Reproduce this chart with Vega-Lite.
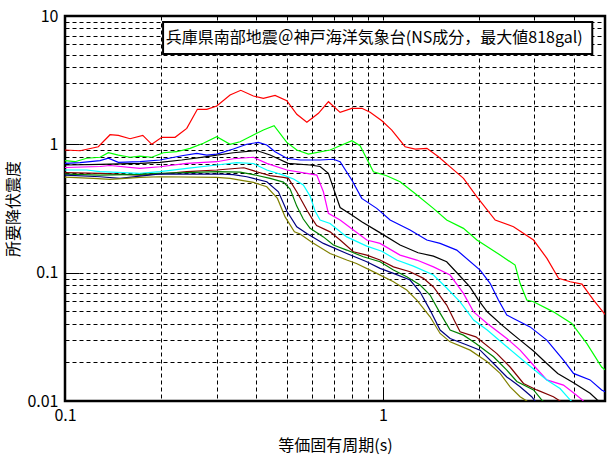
{
  "$schema": "https://vega.github.io/schema/vega-lite/v6.json",
  "width": 540,
  "height": 385,
  "autosize": {"type": "none"},
  "padding": {"left": 65, "top": 16, "right": 6, "bottom": 58},
  "background": "white",
  "config": {
    "view": {"stroke": "black", "strokeWidth": 2.5},
    "font": "Noto Sans CJK JP",
    "axis": {
      "domain": false,
      "labelFont": "Noto Sans CJK JP",
      "labelFontSize": 16,
      "labelColor": "black",
      "titleFont": "Noto Sans CJK JP",
      "titleFontSize": 16,
      "titleFontWeight": "normal",
      "titleColor": "black",
      "gridColor": "black",
      "gridDash": [4, 3],
      "gridWidth": 1,
      "gridOpacity": 1,
      "labelOverlap": false,
      "labelFlush": false,
      "ticks": true,
      "tickColor": "black",
      "tickWidth": 1,
      "tickSize": -14
    }
  },
  "datasets": {
    "curves": [
      {"k":"s1","T":0.1,"S":0.903},{"k":"s1","T":0.1115,"S":0.891},{"k":"s1","T":0.1273,"S":0.958},{"k":"s1","T":0.1386,"S":1.188},{"k":"s1","T":0.1472,"S":1.175},{"k":"s1","T":0.1602,"S":1.106},{"k":"s1","T":0.1757,"S":1.175},{"k":"s1","T":0.1875,"S":1.0},{"k":"s1","T":0.2016,"S":1.134},{"k":"s1","T":0.222,"S":1.134},{"k":"s1","T":0.2416,"S":1.332},{"k":"s1","T":0.2609,"S":1.874},{"k":"s1","T":0.2793,"S":1.874},{"k":"s1","T":0.3002,"S":1.988},{"k":"s1","T":0.3306,"S":2.422},{"k":"s1","T":0.3573,"S":2.636},{"k":"s1","T":0.3914,"S":2.378},{"k":"s1","T":0.4209,"S":2.282},{"k":"s1","T":0.4581,"S":2.409},{"k":"s1","T":0.4987,"S":2.187},{"k":"s1","T":0.5362,"S":1.713},{"k":"s1","T":0.5767,"S":1.484},{"k":"s1","T":0.6271,"S":1.744},{"k":"s1","T":0.6744,"S":2.148},{"k":"s1","T":0.7338,"S":1.776},{"k":"s1","T":0.7987,"S":1.908},{"k":"s1","T":0.8587,"S":1.908},{"k":"s1","T":0.912,"S":1.776},{"k":"s1","T":0.993,"S":1.527},{"k":"s1","T":1.067,"S":1.292},{"k":"s1","T":1.175,"S":0.958},{"k":"s1","T":1.264,"S":0.919},{"k":"s1","T":1.376,"S":0.931},{"k":"s1","T":1.496,"S":0.8},{"k":"s1","T":1.649,"S":0.65},{"k":"s1","T":1.794,"S":0.543},{"k":"s1","T":1.977,"S":0.39},{"k":"s1","T":2.257,"S":0.257},{"k":"s1","T":2.577,"S":0.228},{"k":"s1","T":2.979,"S":0.1795},{"k":"s1","T":3.283,"S":0.1293},{"k":"s1","T":3.571,"S":0.0903},{"k":"s1","T":3.886,"S":0.0849},{"k":"s1","T":4.231,"S":0.0815},{"k":"s1","T":4.603,"S":0.0612},{"k":"s1","T":5.0,"S":0.0473},

      {"k":"s2","T":0.1,"S":0.746},{"k":"s2","T":0.1075,"S":0.732},{"k":"s2","T":0.117,"S":0.779},{"k":"s2","T":0.1289,"S":0.793},{"k":"s2","T":0.1369,"S":0.86},{"k":"s2","T":0.1472,"S":0.825},{"k":"s2","T":0.1602,"S":0.793},{"k":"s2","T":0.1722,"S":0.81},{"k":"s2","T":0.1875,"S":0.793},{"k":"s2","T":0.2039,"S":0.86},{"k":"s2","T":0.2247,"S":0.876},{"k":"s2","T":0.2475,"S":0.931},{"k":"s2","T":0.2725,"S":1.019},{"k":"s2","T":0.3002,"S":1.146},{"k":"s2","T":0.3307,"S":1.001},{"k":"s2","T":0.3556,"S":1.047},{"k":"s2","T":0.3914,"S":1.182},{"k":"s2","T":0.4209,"S":1.293},{"k":"s2","T":0.4548,"S":1.396},{"k":"s2","T":0.4987,"S":1.036},{"k":"s2","T":0.5362,"S":0.903},{"k":"s2","T":0.5831,"S":0.84},{"k":"s2","T":0.6824,"S":0.903},{"k":"s2","T":0.7337,"S":0.976},{"k":"s2","T":0.7994,"S":1.067},{"k":"s2","T":0.848,"S":0.976},{"k":"s2","T":0.934,"S":0.612},{"k":"s2","T":1.028,"S":0.569},{"k":"s2","T":1.133,"S":0.511},{"k":"s2","T":1.263,"S":0.414},{"k":"s2","T":1.442,"S":0.317},{"k":"s2","T":1.588,"S":0.257},{"k":"s2","T":1.793,"S":0.2215},{"k":"s2","T":1.977,"S":0.1795},{"k":"s2","T":2.339,"S":0.1371},{"k":"s2","T":2.607,"S":0.1146},{"k":"s2","T":2.703,"S":0.0826},{"k":"s2","T":2.837,"S":0.0612},{"k":"s2","T":2.979,"S":0.0593},{"k":"s2","T":3.44,"S":0.0495},{"k":"s2","T":3.93,"S":0.0402},{"k":"s2","T":4.38,"S":0.0281},{"k":"s2","T":4.88,"S":0.0184},{"k":"s2","T":5.0,"S":0.0175},

      {"k":"s3","T":0.1,"S":0.711},{"k":"s3","T":0.1115,"S":0.719},{"k":"s3","T":0.1289,"S":0.746},{"k":"s3","T":0.1369,"S":0.779},{"k":"s3","T":0.1472,"S":0.724},{"k":"s3","T":0.1722,"S":0.732},{"k":"s3","T":0.1991,"S":0.755},{"k":"s3","T":0.233,"S":0.815},{"k":"s3","T":0.2598,"S":0.85},{"k":"s3","T":0.2793,"S":0.825},{"k":"s3","T":0.3002,"S":0.84},{"k":"s3","T":0.3386,"S":0.92},{"k":"s3","T":0.3733,"S":1.001},{"k":"s3","T":0.406,"S":1.036},{"k":"s3","T":0.4314,"S":0.988},{"k":"s3","T":0.4581,"S":0.876},{"k":"s3","T":0.4987,"S":0.779},{"k":"s3","T":0.5492,"S":0.755},{"k":"s3","T":0.6347,"S":0.755},{"k":"s3","T":0.699,"S":0.765},{"k":"s3","T":0.7337,"S":0.732},{"k":"s3","T":0.7986,"S":0.527},{"k":"s3","T":0.8584,"S":0.379},{"k":"s3","T":0.9569,"S":0.317},{"k":"s3","T":1.054,"S":0.257},{"k":"s3","T":1.133,"S":0.235},{"k":"s3","T":1.218,"S":0.2148},{"k":"s3","T":1.375,"S":0.1795},{"k":"s3","T":1.514,"S":0.169},{"k":"s3","T":1.708,"S":0.15},{"k":"s3","T":2.023,"S":0.1048},{"k":"s3","T":2.175,"S":0.0826},{"k":"s3","T":2.31,"S":0.0612},{"k":"s3","T":2.455,"S":0.0467},{"k":"s3","T":2.576,"S":0.044},{"k":"s3","T":2.906,"S":0.0378},{"k":"s3","T":3.28,"S":0.0298},{"k":"s3","T":3.7,"S":0.0208},{"k":"s3","T":3.98,"S":0.0164},{"k":"s3","T":4.488,"S":0.0146},{"k":"s3","T":4.88,"S":0.0122},{"k":"s3","T":5.0,"S":0.0118},

      {"k":"s4","T":0.1,"S":0.69},{"k":"s4","T":0.1289,"S":0.699},{"k":"s4","T":0.1722,"S":0.711},{"k":"s4","T":0.1991,"S":0.724},{"k":"s4","T":0.233,"S":0.755},{"k":"s4","T":0.2793,"S":0.802},{"k":"s4","T":0.3386,"S":0.86},{"k":"s4","T":0.4008,"S":0.895},{"k":"s4","T":0.4419,"S":0.825},{"k":"s4","T":0.5036,"S":0.711},{"k":"s4","T":0.5904,"S":0.69},{"k":"s4","T":0.6347,"S":0.672},{"k":"s4","T":0.674,"S":0.594},{"k":"s4","T":0.699,"S":0.456},{"k":"s4","T":0.7337,"S":0.322},{"k":"s4","T":0.7986,"S":0.281},{"k":"s4","T":0.858,"S":0.249},{"k":"s4","T":0.973,"S":0.207},{"k":"s4","T":1.133,"S":0.1641},{"k":"s4","T":1.291,"S":0.143},{"k":"s4","T":1.443,"S":0.1346},{"k":"s4","T":1.588,"S":0.1216},{"k":"s4","T":1.725,"S":0.0976},{"k":"s4","T":1.882,"S":0.0772},{"k":"s4","T":1.999,"S":0.0612},{"k":"s4","T":2.13,"S":0.0496},{"k":"s4","T":2.39,"S":0.0383},{"k":"s4","T":2.703,"S":0.0298},{"k":"s4","T":2.979,"S":0.0245},{"k":"s4","T":3.28,"S":0.0196},{"k":"s4","T":3.55,"S":0.0164},{"k":"s4","T":3.98,"S":0.0139},{"k":"s4","T":4.488,"S":0.0115},{"k":"s4","T":4.73,"S":0.0102},{"k":"s4","T":4.9,"S":0.0097},

      {"k":"s5","T":0.1,"S":0.66},{"k":"s5","T":0.1289,"S":0.672},{"k":"s5","T":0.1386,"S":0.684},{"k":"s5","T":0.1722,"S":0.65},{"k":"s5","T":0.1991,"S":0.669},{"k":"s5","T":0.2417,"S":0.711},{"k":"s5","T":0.3002,"S":0.732},{"k":"s5","T":0.3386,"S":0.772},{"k":"s5","T":0.3914,"S":0.793},{"k":"s5","T":0.4314,"S":0.711},{"k":"s5","T":0.4987,"S":0.631},{"k":"s5","T":0.5766,"S":0.594},{"k":"s5","T":0.6197,"S":0.576},{"k":"s5","T":0.65,"S":0.427},{"k":"s5","T":0.674,"S":0.29},{"k":"s5","T":0.7337,"S":0.257},{"k":"s5","T":0.8078,"S":0.2148},{"k":"s5","T":0.89,"S":0.1795},{"k":"s5","T":0.98,"S":0.169},{"k":"s5","T":1.133,"S":0.1371},{"k":"s5","T":1.279,"S":0.1254},{"k":"s5","T":1.443,"S":0.111},{"k":"s5","T":1.628,"S":0.0958},{"k":"s5","T":1.793,"S":0.069},{"k":"s5","T":1.93,"S":0.0495},{"k":"s5","T":2.13,"S":0.0402},{"k":"s5","T":2.455,"S":0.0307},{"k":"s5","T":2.703,"S":0.0249},{"k":"s5","T":2.979,"S":0.019},{"k":"s5","T":3.28,"S":0.0146},{"k":"s5","T":3.7,"S":0.0133},{"k":"s5","T":4.07,"S":0.0111},{"k":"s5","T":4.24,"S":0.0102},{"k":"s5","T":4.3,"S":0.0098},

      {"k":"s6","T":0.1,"S":0.631},{"k":"s6","T":0.117,"S":0.631},{"k":"s6","T":0.1289,"S":0.612},{"k":"s6","T":0.1722,"S":0.594},{"k":"s6","T":0.1991,"S":0.612},{"k":"s6","T":0.2417,"S":0.65},{"k":"s6","T":0.3002,"S":0.69},{"k":"s6","T":0.347,"S":0.719},{"k":"s6","T":0.3914,"S":0.709},{"k":"s6","T":0.4314,"S":0.631},{"k":"s6","T":0.4866,"S":0.576},{"k":"s6","T":0.5238,"S":0.537},{"k":"s6","T":0.562,"S":0.482},{"k":"s6","T":0.5904,"S":0.395},{"k":"s6","T":0.6121,"S":0.302},{"k":"s6","T":0.6347,"S":0.257},{"k":"s6","T":0.6824,"S":0.242},{"k":"s6","T":0.77,"S":0.19},{"k":"s6","T":0.89,"S":0.161},{"k":"s6","T":0.9924,"S":0.147},{"k":"s6","T":1.106,"S":0.1254},{"k":"s6","T":1.248,"S":0.1125},{"k":"s6","T":1.443,"S":0.0958},{"k":"s6","T":1.588,"S":0.0759},{"k":"s6","T":1.75,"S":0.0593},{"k":"s6","T":1.93,"S":0.0427},{"k":"s6","T":2.13,"S":0.0357},{"k":"s6","T":2.455,"S":0.0265},{"k":"s6","T":2.837,"S":0.0196},{"k":"s6","T":3.28,"S":0.0146},{"k":"s6","T":3.61,"S":0.0125},{"k":"s6","T":3.883,"S":0.0102},{"k":"s6","T":3.95,"S":0.0098},

      {"k":"s7","T":0.1,"S":0.601},{"k":"s7","T":0.1289,"S":0.594},{"k":"s7","T":0.1722,"S":0.576},{"k":"s7","T":0.1991,"S":0.587},{"k":"s7","T":0.2417,"S":0.612},{"k":"s7","T":0.3002,"S":0.631},{"k":"s7","T":0.3655,"S":0.657},{"k":"s7","T":0.4008,"S":0.612},{"k":"s7","T":0.4419,"S":0.571},{"k":"s7","T":0.4866,"S":0.553},{"k":"s7","T":0.5045,"S":0.543},{"k":"s7","T":0.536,"S":0.427},{"k":"s7","T":0.5766,"S":0.3075},{"k":"s7","T":0.5972,"S":0.266},{"k":"s7","T":0.619,"S":0.233},{"k":"s7","T":0.6824,"S":0.208},{"k":"s7","T":0.7337,"S":0.1795},{"k":"s7","T":0.8078,"S":0.1455},{"k":"s7","T":0.89,"S":0.1371},{"k":"s7","T":0.98,"S":0.1254},{"k":"s7","T":1.08,"S":0.111},{"k":"s7","T":1.218,"S":0.1017},{"k":"s7","T":1.342,"S":0.0903},{"k":"s7","T":1.443,"S":0.0773},{"k":"s7","T":1.588,"S":0.0559},{"k":"s7","T":1.688,"S":0.0412},{"k":"s7","T":1.75,"S":0.0346},{"k":"s7","T":1.962,"S":0.0316},{"k":"s7","T":2.28,"S":0.0235},{"k":"s7","T":2.514,"S":0.0184},{"k":"s7","T":2.77,"S":0.0137},{"k":"s7","T":3.05,"S":0.0122},{"k":"s7","T":3.44,"S":0.0108},{"k":"s7","T":3.61,"S":0.01},{"k":"s7","T":3.7,"S":0.0097},

      {"k":"s8","T":0.1,"S":0.587},{"k":"s8","T":0.1289,"S":0.576},{"k":"s8","T":0.1722,"S":0.583},{"k":"s8","T":0.1991,"S":0.594},{"k":"s8","T":0.2417,"S":0.601},{"k":"s8","T":0.3002,"S":0.612},{"k":"s8","T":0.3556,"S":0.607},{"k":"s8","T":0.3914,"S":0.581},{"k":"s8","T":0.4419,"S":0.543},{"k":"s8","T":0.4866,"S":0.508},{"k":"s8","T":0.5108,"S":0.449},{"k":"s8","T":0.536,"S":0.33},{"k":"s8","T":0.562,"S":0.262},{"k":"s8","T":0.5904,"S":0.2215},{"k":"s8","T":0.65,"S":0.19},{"k":"s8","T":0.699,"S":0.1641},{"k":"s8","T":0.77,"S":0.15},{"k":"s8","T":0.868,"S":0.133},{"k":"s8","T":0.98,"S":0.1216},{"k":"s8","T":1.08,"S":0.1048},{"k":"s8","T":1.189,"S":0.0929},{"k":"s8","T":1.31,"S":0.0801},{"k":"s8","T":1.408,"S":0.0669},{"k":"s8","T":1.514,"S":0.0484},{"k":"s8","T":1.628,"S":0.0357},{"k":"s8","T":1.793,"S":0.0326},{"k":"s8","T":1.962,"S":0.0281},{"k":"s8","T":2.23,"S":0.0221},{"k":"s8","T":2.455,"S":0.0174},{"k":"s8","T":2.64,"S":0.0142},{"k":"s8","T":2.98,"S":0.0122},{"k":"s8","T":3.16,"S":0.0102},{"k":"s8","T":3.22,"S":0.0098},

      {"k":"s9","T":0.1,"S":0.576},{"k":"s9","T":0.1289,"S":0.559},{"k":"s9","T":0.149,"S":0.543},{"k":"s9","T":0.1722,"S":0.566},{"k":"s9","T":0.1991,"S":0.587},{"k":"s9","T":0.2417,"S":0.587},{"k":"s9","T":0.3002,"S":0.587},{"k":"s9","T":0.3386,"S":0.581},{"k":"s9","T":0.3733,"S":0.559},{"k":"s9","T":0.3914,"S":0.543},{"k":"s9","T":0.4314,"S":0.511},{"k":"s9","T":0.4693,"S":0.427},{"k":"s9","T":0.4987,"S":0.302},{"k":"s9","T":0.536,"S":0.228},{"k":"s9","T":0.5766,"S":0.2023},{"k":"s9","T":0.65,"S":0.169},{"k":"s9","T":0.77,"S":0.141},{"k":"s9","T":0.89,"S":0.1216},{"k":"s9","T":0.98,"S":0.108},{"k":"s9","T":1.08,"S":0.0987},{"k":"s9","T":1.218,"S":0.0876},{"k":"s9","T":1.31,"S":0.0706},{"k":"s9","T":1.408,"S":0.0511},{"k":"s9","T":1.514,"S":0.0357},{"k":"s9","T":1.628,"S":0.0307},{"k":"s9","T":1.84,"S":0.0273},{"k":"s9","T":2.023,"S":0.0249},{"k":"s9","T":2.23,"S":0.0196},{"k":"s9","T":2.455,"S":0.0154},{"k":"s9","T":2.703,"S":0.0129},{"k":"s9","T":2.94,"S":0.0108},{"k":"s9","T":3.013,"S":0.01},{"k":"s9","T":3.07,"S":0.0097},

      {"k":"s10","T":0.1,"S":0.556},{"k":"s10","T":0.1228,"S":0.543},{"k":"s10","T":0.1386,"S":0.534},{"k":"s10","T":0.1722,"S":0.553},{"k":"s10","T":0.1991,"S":0.559},{"k":"s10","T":0.3002,"S":0.553},{"k":"s10","T":0.3307,"S":0.543},{"k":"s10","T":0.3556,"S":0.527},{"k":"s10","T":0.3914,"S":0.506},{"k":"s10","T":0.4314,"S":0.467},{"k":"s10","T":0.466,"S":0.379},{"k":"s10","T":0.4926,"S":0.272},{"k":"s10","T":0.527,"S":0.208},{"k":"s10","T":0.5492,"S":0.2},{"k":"s10","T":0.5994,"S":0.172},{"k":"s10","T":0.6824,"S":0.141},{"k":"s10","T":0.77,"S":0.1254},{"k":"s10","T":0.826,"S":0.118},{"k":"s10","T":0.957,"S":0.0987},{"k":"s10","T":1.08,"S":0.0849},{"k":"s10","T":1.189,"S":0.0732},{"k":"s10","T":1.279,"S":0.0612},{"k":"s10","T":1.408,"S":0.0453},{"k":"s10","T":1.514,"S":0.0336},{"k":"s10","T":1.628,"S":0.0289},{"k":"s10","T":1.882,"S":0.0249},{"k":"s10","T":2.13,"S":0.0202},{"k":"s10","T":2.339,"S":0.0164},{"k":"s10","T":2.514,"S":0.0129},{"k":"s10","T":2.703,"S":0.0108},{"k":"s10","T":2.837,"S":0.01},{"k":"s10","T":2.9,"S":0.0097}
    ]
  },
  "layer": [
    {
      "data": {"name": "curves"},
      "mark": {"type": "line", "clip": true, "strokeWidth": 1.2},
      "encoding": {
        "x": {
          "field": "T",
          "type": "quantitative",
          "scale": {"type": "log", "domain": [0.1, 5], "nice": false},
          "axis": {
            "title": "等価固有周期(s)",
            "titlePadding": 14,
            "values": [0.1, 0.2, 0.3, 0.4, 0.5, 0.6, 0.7, 0.8, 0.9, 1, 2, 3, 4],
            "labelExpr": "datum.value == 0.1 ? '0.1' : datum.value == 1 ? '1' : ''",
            "labelPadding": 20,
            "tickOpacity": {"condition": {"test": "datum.value == 0.1 || datum.value == 1", "value": 1}, "value": 0}
          }
        },
        "y": {
          "field": "S",
          "type": "quantitative",
          "scale": {"type": "log", "domain": [0.01, 10], "nice": false},
          "axis": {
            "title": "所要降伏震度",
            "titlePadding": 5,
            "values": [0.01, 0.02, 0.03, 0.04, 0.05, 0.06, 0.07, 0.08, 0.09, 0.1, 0.2, 0.3, 0.4, 0.5, 0.6, 0.7, 0.8, 0.9, 1, 2, 3, 4, 5, 6, 7, 8, 9, 10],
            "labelExpr": "datum.value == 0.01 ? '0.01' : datum.value == 0.1 ? '0.1' : datum.value == 1 ? '1' : datum.value == 10 ? '10' : ''",
            "labelPadding": 21,
            "tickOpacity": {"condition": {"test": "datum.value == 0.01 || datum.value == 0.1 || datum.value == 1 || datum.value == 10", "value": 1}, "value": 0}
          }
        },
        "color": {
          "field": "k",
          "type": "nominal",
          "scale": {
            "domain": ["s1", "s2", "s3", "s4", "s5", "s6", "s7", "s8", "s9", "s10"],
            "range": ["#FF0000", "#00FF00", "#0000FF", "#000000", "#FF00FF", "#00FFFF", "#800000", "#008000", "#000080", "#808000"]
          },
          "legend": null
        }
      }
    },
    {
      "data": {"values": [{"note": "title box"}]},
      "mark": {"type": "rect", "fill": "white", "stroke": "black", "strokeWidth": 2},
      "encoding": {
        "x": {"datum": 0.2035, "type": "quantitative"},
        "x2": {"datum": 4.56},
        "y": {"datum": 8.98, "type": "quantitative"},
        "y2": {"datum": 5.055}
      }
    },
    {
      "data": {"values": [{"note": "兵庫県南部地震＠神戸海洋気象台(NS成分，最大値818gal)"}]},
      "mark": {"type": "text", "align": "left", "baseline": "middle", "fontSize": 16, "font": "Noto Sans CJK JP", "color": "black"},
      "encoding": {
        "x": {"datum": 0.2075, "type": "quantitative"},
        "y": {"datum": 6.74, "type": "quantitative"},
        "text": {"field": "note"}
      }
    }
  ]
}
